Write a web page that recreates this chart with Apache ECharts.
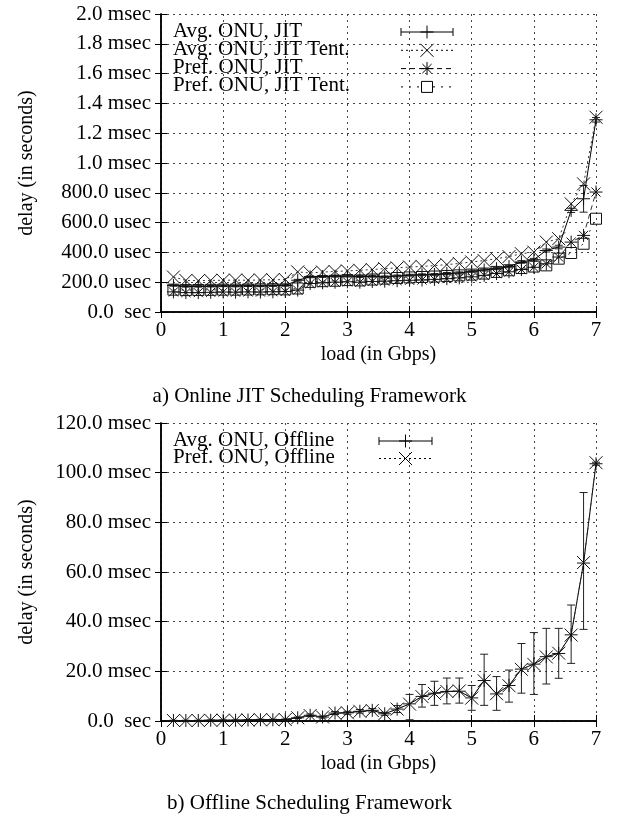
<!DOCTYPE html>
<html>
<head>
<meta charset="utf-8">
<script src="https://cdn.jsdelivr.net/npm/echarts@6/dist/echarts.min.js"></script>
<style>
  html, body { margin: 0; padding: 0; background: #fff; }
  #chart { width: 619px; height: 819px; }
</style>
</head>
<body>
<div id="chart"></div>
<script>
// load points (Gbps), shared by both plots
var loads = [0.2, 0.4, 0.6, 0.8, 1.0, 1.2, 1.4, 1.6, 1.8, 2.0,
             2.2, 2.4, 2.6, 2.8, 3.0, 3.2, 3.4, 3.6, 3.8, 4.0,
             4.2, 4.4, 4.6, 4.8, 5.0, 5.2, 5.4, 5.6, 5.8, 6.0,
             6.2, 6.4, 6.6, 6.8, 7.0];

// a) online JIT, delay in usec
var avgJit = [178, 172, 172, 173, 175, 174, 176, 175, 177, 178,
              213, 236, 238, 240, 241, 238, 240, 236, 242, 247,
              250, 252, 258, 262, 273, 282, 291, 305, 336, 351,
              413, 436, 682, 760, 1290];
var avgJitLow = [173, 167, 167, 168, 170, 169, 171, 170, 172, 173,
                 207, 230, 232, 234, 235, 232, 234, 230, 236, 241,
                 244, 246, 251, 255, 266, 275, 284, 297, 327, 342,
                 403, 424, 668, 670, 1275];
var avgJitHigh = [183, 177, 177, 178, 180, 179, 181, 180, 182, 183,
                  219, 242, 244, 246, 247, 244, 246, 242, 248, 253,
                  256, 258, 265, 269, 280, 289, 298, 313, 345, 360,
                  423, 448, 696, 849, 1305];
var avgJitTent = [235, 212, 210, 212, 213, 214, 213, 215, 216, 218,
                  269, 262, 268, 272, 276, 280, 285, 291, 296, 302,
                  306, 311, 318, 326, 336, 345, 358, 372, 391, 402,
                  469, 492, 726, 860, 1307];
var prefJit = [135, 130, 130, 132, 134, 133, 135, 134, 136, 138,
               147, 191, 196, 200, 203, 200, 205, 207, 210, 213,
               215, 219, 224, 229, 236, 246, 258, 270, 285, 300,
               324, 369, 469, 514, 805];
var prefJitTent = [150, 147, 148, 149, 150, 150, 151, 152, 153, 152,
                   158, 202, 207, 210, 214, 212, 218, 224, 228, 232,
                   235, 238, 242, 246, 251, 258, 269, 280, 295, 305,
                   313, 358, 396, 458, 626];

// b) offline, delay in msec
var avgOff = [0.2, 0.2, 0.2, 0.3, 0.3, 0.3, 0.4, 0.5, 0.5, 0.6,
              1.3, 2.3, 1.6, 3.2, 3.3, 3.9, 4.3, 2.9, 4.8, 6.9,
              9.9, 11.2, 11.9, 12.0, 9.3, 16.3, 10.9, 14.3, 20.9, 22.9,
              25.9, 27.2, 34.7, 63.6, 103.6];
var avgOffLow = [0.1, 0.1, 0.1, 0.2, 0.2, 0.2, 0.3, 0.3, 0.3, 0.4,
                 1.0, 1.8, 1.2, 2.6, 2.7, 3.2, 3.6, 2.3, 3.4, 0.5,
                 5.6, 6.3, 6.9, 7.2, 4.3, 6.3, 4.3, 7.6, 11.2, 10.7,
                 14.9, 17.2, 23.2, 36.9, 103.0];
var avgOffHigh = [0.3, 0.3, 0.3, 0.4, 0.4, 0.4, 0.5, 0.7, 0.7, 0.8,
                  1.6, 2.8, 2.0, 3.8, 3.9, 4.6, 5.0, 3.5, 6.2, 10.7,
                  14.7, 16.0, 17.3, 17.3, 14.3, 26.9, 17.9, 20.5, 31.2, 35.6,
                  37.3, 37.3, 46.7, 92.0, 104.2];
var prefOff = [0.2, 0.2, 0.2, 0.3, 0.3, 0.3, 0.4, 0.5, 0.5, 0.6,
               1.3, 2.2, 1.6, 3.1, 3.3, 3.9, 4.2, 2.9, 4.8, 6.8,
               9.8, 11.1, 11.9, 12.1, 9.2, 16.2, 11.0, 14.2, 20.8, 22.8,
               25.8, 27.3, 34.6, 63.8, 104.0];

var FONT = 'Liberation Serif';
var INK = '#000';

var SYM_PLUS = 'path://M0,5L10,5M5,0L5,10';
var SYM_CROSS = 'path://M0,0L10,10M10,0L0,10';
var SYM_STAR = 'path://M0,5L10,5M5,0L5,10M1.5,1.5L8.5,8.5M8.5,1.5L1.5,8.5';

function pairs(xs, ys) {
    var out = [];
    for (var i = 0; i < xs.length; i++) out.push([xs[i], ys[i]]);
    return out;
}
function triples(xs, lo, hi) {
    var out = [];
    for (var i = 0; i < xs.length; i++) out.push([xs[i], lo[i], hi[i]]);
    return out;
}

// vertical error bar with caps, through the axis scale
function errBar(capHalf) {
    return function(params, api) {
        var x = api.value(0);
        var lo = api.coord([x, api.value(1)]);
        var hi = api.coord([x, api.value(2)]);
        var st = { stroke: '#222', lineWidth: 1 };
        return {
            type: 'group',
            children: [
                { type: 'line', shape: { x1: lo[0], y1: lo[1], x2: hi[0], y2: hi[1] }, style: st },
                { type: 'line', shape: { x1: lo[0] - capHalf, y1: lo[1], x2: lo[0] + capHalf, y2: lo[1] }, style: st },
                { type: 'line', shape: { x1: hi[0] - capHalf, y1: hi[1], x2: hi[0] + capHalf, y2: hi[1] }, style: st }
            ]
        };
    };
}

function lineSeries(name, data, xi, yi, symbol, size, dash, col) {
    return {
        name: name,
        type: 'line',
        xAxisIndex: xi,
        yAxisIndex: yi,
        data: data,
        symbol: symbol,
        symbolSize: size,
        showAllSymbol: true,
        animation: false,
        lineStyle: { color: col || INK, width: 1, type: dash },
        itemStyle: { color: 'rgba(0,0,0,0)', borderColor: '#111', borderWidth: 1 },
        emphasis: { disabled: true }
    };
}

function xAxisPair(gi) {
    return [{
        gridIndex: gi, type: 'value', min: 0, max: 7, interval: 1,
        axisLine: { lineStyle: { color: INK, width: 1.5 } },
        axisTick: { inside: true, length: 6, lineStyle: { color: INK } },
        axisLabel: { color: INK, fontFamily: FONT, fontSize: 21, margin: 8 },
        splitLine: { show: true, lineStyle: { color: '#444', type: [2, 4], width: 1 } },
        name: 'load (in Gbps)', nameLocation: 'middle', nameGap: 33,
        nameTextStyle: { color: INK, fontFamily: FONT, fontSize: 20 }
    }, {
        gridIndex: gi, type: 'value', min: 0, max: 7, interval: 1, position: 'top',
        axisLine: { lineStyle: { color: INK, width: 1.5 } },
        axisTick: { inside: true, length: 6, lineStyle: { color: INK } },
        axisLabel: { show: false },
        splitLine: { show: false }
    }];
}

function yAxisPair(gi, max, interval, fmt) {
    return [{
        gridIndex: gi, type: 'value', min: 0, max: max, interval: interval,
        axisLine: { show: true, lineStyle: { color: INK, width: 1.5 } },
        axisTick: { show: true, inside: true, length: 6, lineStyle: { color: INK } },
        axisLabel: { color: INK, fontFamily: FONT, fontSize: 21, margin: 10, formatter: fmt },
        splitLine: { show: true, lineStyle: { color: '#444', type: [2, 4], width: 1 } },
        name: 'delay (in seconds)', nameLocation: 'middle', nameGap: 124, nameRotate: 90,
        nameTextStyle: { color: INK, fontFamily: FONT, fontSize: 20 }
    }, {
        gridIndex: gi, type: 'value', min: 0, max: max, interval: interval, position: 'right',
        axisLine: { show: true, lineStyle: { color: INK, width: 1.5 } },
        axisTick: { show: true, inside: true, length: 6, lineStyle: { color: INK } },
        axisLabel: { show: false },
        splitLine: { show: false }
    }];
}

function fmtUsec(v) {
    if (v === 0) return '0.0  sec';
    if (v >= 1000) return (v / 1000).toFixed(1) + ' msec';
    return v.toFixed(1) + ' usec';
}
function fmtMsec(v) {
    if (v === 0) return '0.0  sec';
    return v.toFixed(1) + ' msec';
}

// legend drawn by hand, gnuplot style: text left, sample right
function legendRows(x0, x1, y0, step, rows) {
    var els = [];
    var mid = (x0 + x1) / 2;
    rows.forEach(function(r, i) {
        var y = y0 + i * step;
        els.push({ type: 'text', left: 173, top: y - 11.5, z: 10,
            style: { text: r.text, fill: INK, font: '21px "' + FONT + '"' } });
        els.push({ type: 'line', shape: { x1: x0, y1: y, x2: x1, y2: y },
            style: { stroke: INK, lineWidth: 1, lineDash: r.dash } });
        if (r.caps) {
            els.push({ type: 'line', shape: { x1: x0, y1: y - 4, x2: x0, y2: y + 4 }, style: { stroke: INK, lineWidth: 1 } });
            els.push({ type: 'line', shape: { x1: x1, y1: y - 4, x2: x1, y2: y + 4 }, style: { stroke: INK, lineWidth: 1 } });
        }
        var h = 6.5;
        var mk = [];
        if (r.mark === 'plus' || r.mark === 'star') {
            mk.push([mid - h, y, mid + h, y], [mid, y - h, mid, y + h]);
        }
        if (r.mark === 'cross' || r.mark === 'star') {
            var d = r.mark === 'star' ? 4.6 : h;
            mk.push([mid - d, y - d, mid + d, y + d], [mid + d, y - d, mid - d, y + d]);
        }
        mk.forEach(function(s) {
            els.push({ type: 'line', shape: { x1: s[0], y1: s[1], x2: s[2], y2: s[3] }, style: { stroke: INK, lineWidth: 1 } });
        });
        if (r.mark === 'square') {
            els.push({ type: 'rect', shape: { x: mid - 5.5, y: y - 5.5, width: 11, height: 11 },
                style: { fill: '#fff', stroke: INK, lineWidth: 1 } });
        }
    });
    return els;
}

var legendTop = legendRows(401, 453, 32, 18.3, [
    { text: 'Avg. ONU, JIT', dash: 'solid', caps: true, mark: 'plus' },
    { text: 'Avg. ONU, JIT Tent.', dash: [2, 3], mark: 'cross' },
    { text: 'Pref. ONU, JIT', dash: [5, 4], mark: 'star' },
    { text: 'Pref. ONU, JIT Tent.', dash: [2, 6], mark: 'square' }
]);
var legendBottom = legendRows(379, 432, 441, 17.5, [
    { text: 'Avg. ONU, Offline', dash: 'solid', caps: true, mark: 'plus' },
    { text: 'Pref. ONU, Offline', dash: [2, 3], mark: 'cross' }
]);

var chart = echarts.init(document.getElementById('chart'), null, { renderer: 'canvas' });

chart.setOption({
    backgroundColor: '#fff',
    animation: false,
    title: [
        { text: 'a) Online JIT Scheduling Framework', left: 'center', top: 381,
          textStyle: { color: INK, fontFamily: FONT, fontSize: 21, fontWeight: 'normal' } },
        { text: 'b) Offline Scheduling Framework', left: 'center', top: 788,
          textStyle: { color: INK, fontFamily: FONT, fontSize: 21, fontWeight: 'normal' } }
    ],
    grid: [
        { left: 161, right: 23, top: 14, height: 298 },
        { left: 161, right: 23, top: 423, height: 298 }
    ],
    xAxis: xAxisPair(0).concat(xAxisPair(1)),
    yAxis: yAxisPair(0, 2000, 200, fmtUsec).concat(yAxisPair(1, 120, 20, fmtMsec)),
    graphic: legendTop.concat(legendBottom),
    series: [
        {
            type: 'custom', xAxisIndex: 0, yAxisIndex: 0, animation: false,
            renderItem: errBar(4), encode: { x: 0, y: [1, 2] },
            data: triples(loads, avgJitLow, avgJitHigh), z: 3
        },
        lineSeries('Avg. ONU, JIT', pairs(loads, avgJit), 0, 0, SYM_PLUS, 13, 'solid'),
        lineSeries('Avg. ONU, JIT Tent.', pairs(loads, avgJitTent), 0, 0, SYM_CROSS, 13, [2, 3], '#333'),
        lineSeries('Pref. ONU, JIT', pairs(loads, prefJit), 0, 0, SYM_STAR, 13, [5, 4], '#333'),
        lineSeries('Pref. ONU, JIT Tent.', pairs(loads, prefJitTent), 0, 0, 'rect', 11, [2, 6], '#333'),
        {
            type: 'custom', xAxisIndex: 2, yAxisIndex: 2, animation: false,
            renderItem: errBar(4), encode: { x: 0, y: [1, 2] },
            data: triples(loads, avgOffLow, avgOffHigh), z: 3
        },
        lineSeries('Avg. ONU, Offline', pairs(loads, avgOff), 2, 2, SYM_PLUS, 13, 'solid'),
        lineSeries('Pref. ONU, Offline', pairs(loads, prefOff), 2, 2, SYM_CROSS, 13, [2, 3], '#333')
    ]
});
</script>
</body>
</html>
